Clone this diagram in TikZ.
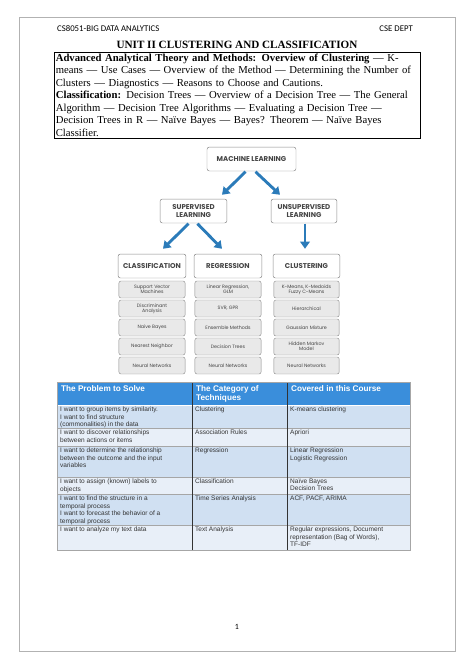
\documentclass[tikz,border=0pt]{standalone}
\usepackage{fontspec}
\setmainfont{Liberation Serif}
\newfontfamily\arialf{Liberation Sans}
\newfontfamily\calibf{Carlito}
\newfontfamily\geof{Poppins}
\usetikzlibrary{arrows.meta,calc}
\definecolor{arrblue}{HTML}{2B7BB9}
\definecolor{thblue}{HTML}{3A8EDB}
\definecolor{rowa}{HTML}{D0E0F2}
\definecolor{rowb}{HTML}{E8EFF8}
\definecolor{boxgray}{HTML}{8A8A8A}
\definecolor{subfill}{HTML}{E9E9E9}
\definecolor{txtgray}{HTML}{444444}
\definecolor{celltxt}{HTML}{333333}
\newlength\jlw
\setlength\jlw{455pt}
\newcommand\jl[1]{\makebox[\jlw][s]{#1}}
\tikzset{
  hdrbox/.style={draw=boxgray, line width=0.6pt, rounded corners=3pt, fill=white,
    font=\geof\bfseries\fontsize{8.8}{9.8}\selectfont, text=txtgray, align=center, inner sep=0pt},
  subbox/.style={draw=boxgray, line width=0.5pt, rounded corners=2.5pt, fill=subfill,
    font=\geof\fontsize{6}{6.3}\selectfont, text=txtgray, align=center, inner sep=0pt,
    minimum height=21.3pt},
  barrow/.style={draw=arrblue, line width=3.6pt, -{Triangle[width=12pt,length=9pt]}},
  cell/.style={anchor=north west, inner sep=0pt, align=left, text=celltxt,
    font=\arialf\fontsize{8.2}{9.6}\selectfont},
  hcell/.style={anchor=north west, inner sep=0pt, align=left, text=white,
    font=\arialf\bfseries\fontsize{10.3}{11.4}\selectfont},
}
\begin{document}
\begin{tikzpicture}[x=1.2553pt,y=-1.2553pt]
\useasboundingbox[fill=white] (0,0) rectangle (474,670);
\draw[draw=gray!60, line width=0.7pt] (19,17) rectangle (455,651);
% header
\node[font=\calibf\fontsize{11}{12}\selectfont, anchor=base west, inner sep=0pt] (hdl) at (57,31) {CS8051-BIG DATA ANALYTICS};
\node[font=\calibf\fontsize{11}{12}\selectfont, anchor=base east, inner sep=0pt] (hdr) at (413,31) {CSE DEPT};
\node[font=\bfseries\fontsize{14}{16}\selectfont, anchor=base, inner sep=0pt] (title) at (237,48) {UNIT II CLUSTERING AND CLASSIFICATION};
% syllabus box
\node[draw, line width=0.6pt, anchor=north west, inner xsep=2pt, inner ysep=2.5pt, text width=\jlw, align=left,
  font=\fontsize{13.4}{15.7}\selectfont] (syl) at (54,51.5) {%
\jl{\textbf{Advanced Analytical Theory and Methods: Overview of Clustering} — K-}\\
\jl{means — Use Cases — Overview of the Method — Determining the Number of}\\
Clusters — Diagnostics — Reasons to Choose and Cautions.\\
\jl{\textbf{Classification:} Decision Trees — Overview of a Decision Tree — The General}\\
\jl{Algorithm — Decision Tree Algorithms — Evaluating a Decision Tree —}\\
\jl{Decision Trees in R — Naïve Bayes — Bayes? Theorem — Naïve Bayes}\\
Classifier.};
% diagram
\node[hdrbox, minimum width=111.7pt, minimum height=30.1pt] (ml) at (251.5,159) {MACHINE LEARNING};
\node[hdrbox, minimum width=84pt, minimum height=30.1pt] (sup) at (193.5,211) {SUPERVISED\\LEARNING};
\node[hdrbox, minimum width=82.8pt, minimum height=30.1pt] (uns) at (304,211) {UNSUPERVISED\\LEARNING};
\node[hdrbox, minimum width=85.3pt, minimum height=30.1pt] (cla) at (152,266) {CLASSIFICATION};
\node[hdrbox, minimum width=85.3pt, minimum height=30.1pt] (reg) at (228,266) {REGRESSION};
\node[hdrbox, minimum width=84pt, minimum height=30.1pt] (clu) at (306.5,266) {CLUSTERING};
% sub boxes
\foreach \n/\t [count=\i] in {a/{Support Vector\\Machines}, b/{Discriminant\\Analysis}, c/{Naive Bayes}, d/{Nearest Neighbor}, e/{Neural Networks}}{
  \pgfmathsetmacro\yy{289.5+(\i-1)*19}
  \node[subbox, minimum width=83pt] (cla\n) at (152,\yy) {\t};}
\foreach \n/\t [count=\i] in {a/{Linear Regression,\\GLM}, b/{SVR, GPR}, c/{Ensemble Methods}, d/{Decision Trees}, e/{Neural Networks}}{
  \pgfmathsetmacro\yy{289.5+(\i-1)*19}
  \node[subbox, minimum width=83pt] (reg\n) at (228,\yy) {\t};}
\foreach \n/\t [count=\i] in {a/{K-Means, K-Medoids\\Fuzzy C-Means}, b/{Hierarchical}, c/{Gaussian Mixture}, d/{Hidden Markov\\Model}, e/{Neural Networks}}{
  \pgfmathsetmacro\yy{289.5+(\i-1)*19}
  \node[subbox, minimum width=82pt] (clu\n) at (306.5,\yy) {\t};}
% arrows
\draw[barrow] ($(ml.south)+(-6,0.5)$) -- ($(sup.north)+(28.5,-4)$);
\draw[barrow] ($(ml.south)+(4,0.5)$) -- ($(uns.north)+(-24,-4)$);
\draw[barrow] ($(sup.south)+(-5,0.5)$) -- ($(cla.north)+(11,-5)$);
\draw[barrow] ($(sup.south)+(4,0.5)$) -- ($(reg.north)+(-6,-5)$);
\draw[barrow] ($(uns.south)+(1,0.5)$) -- ($(clu.north)+(-1.5,-5)$);
% table
\fill[thblue] (57,382) rectangle (410,405);
\fill[rowa] (57,405) rectangle (410,428);
\fill[rowb] (57,428) rectangle (410,446);
\fill[rowa] (57,446) rectangle (410,477);
\fill[rowb] (57,477) rectangle (410,494);
\fill[rowa] (57,494) rectangle (410,525);
\fill[rowb] (57,525) rectangle (410,550);
\foreach \yy in {405,428,446,477,494,525}{\draw[white, line width=1pt] (57,\yy) -- (410,\yy);}
\foreach \yy in {428,446,477,494,525}{\draw[gray!70, line width=0.4pt] (57,\yy+0.6) -- (410,\yy+0.6);}
\draw[gray!40!black, line width=0.6pt] (192,382) -- (192,550);
\draw[gray!40!black, line width=0.6pt] (287,382) -- (287,550);
\draw[gray!70, line width=0.6pt] (57,382) rectangle (410,550);
% header cells
\node[hcell] (h1) at (61,385.5) {The Problem to Solve};
\node[hcell] (h2) at (196,385.5) {The Category of\\Techniques};
\node[hcell] (h3) at (291,385.5) {Covered in this Course};
% body cells
\node[cell] (a1) at (60,406.5) {I want to group items by similarity.\\I want to find structure\\(commonalities) in the data};
\node[cell] (b1) at (195,406.5) {Clustering};
\node[cell] (c1) at (290,406.5) {K-means clustering};
\node[cell] (a2) at (60,429.5) {I want to discover relationships\\between actions or items};
\node[cell] (b2) at (195,429.5) {Association Rules};
\node[cell] (c2) at (290,429.5) {Apriori};
\node[cell] (a3) at (60,447.5) {I want to determine the relationship\\between the outcome and the input\\variables};
\node[cell] (b3) at (195,447.5) {Regression};
\node[cell] (c3) at (290,447.5) {Linear Regression\\Logistic Regression};
\node[cell] (a4) at (60,478.5) {I want to assign (known) labels to\\objects};
\node[cell] (b4) at (195,478.5) {Classification};
\node[cell] (c4) at (290,478.5) {Naïve Bayes\\Decision Trees};
\node[cell] (a5) at (60,495.5) {I want to find the structure in a\\temporal process\\I want to forecast the behavior of a\\temporal process};
\node[cell] (b5) at (195,495.5) {Time Series Analysis};
\node[cell] (c5) at (290,495.5) {ACF, PACF, ARIMA};
\node[cell] (a6) at (60,526.5) {I want to analyze my text data};
\node[cell] (b6) at (195,526.5) {Text Analysis};
\node[cell] (c6) at (290,526.5) {Regular expressions, Document\\representation (Bag of Words),\\TF-IDF};
% page number
\node[font=\calibf\fontsize{10}{11}\selectfont, inner sep=0pt] (pg) at (237,627) {1};
\end{tikzpicture}
\end{document}
